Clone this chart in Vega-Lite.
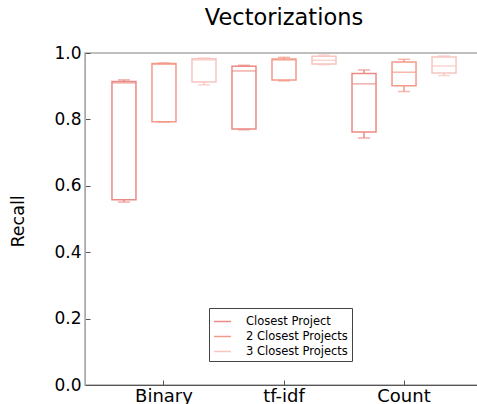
{
  "$schema": "https://vega.github.io/schema/vega-lite/v6.json",
  "autosize": {"type": "none"},
  "padding": {"left": 85, "top": 53, "right": 0, "bottom": 19},
  "width": 398,
  "height": 332,
  "title": {"text": "Vectorizations", "font": "DejaVu Sans", "fontSize": 22.5, "fontWeight": "normal", "color": "black", "offset": 15, "anchor": "middle"},
  "data": {"values": [
    {"vec": "Binary", "series": "Closest Project", "min": 0.551, "q1": 0.558, "median": 0.910, "q3": 0.914, "max": 0.919},
    {"vec": "Binary", "series": "2 Closest Projects", "min": 0.792, "q1": 0.793, "median": 0.966, "q3": 0.968, "max": 0.970},
    {"vec": "Binary", "series": "3 Closest Projects", "min": 0.904, "q1": 0.913, "median": 0.979, "q3": 0.983, "max": 0.985},
    {"vec": "tf-idf", "series": "Closest Project", "min": 0.769, "q1": 0.771, "median": 0.946, "q3": 0.960, "max": 0.963},
    {"vec": "tf-idf", "series": "2 Closest Projects", "min": 0.916, "q1": 0.919, "median": 0.979, "q3": 0.982, "max": 0.987},
    {"vec": "tf-idf", "series": "3 Closest Projects", "min": 0.965, "q1": 0.967, "median": 0.978, "q3": 0.990, "max": 0.994},
    {"vec": "Count", "series": "Closest Project", "min": 0.744, "q1": 0.762, "median": 0.907, "q3": 0.938, "max": 0.949},
    {"vec": "Count", "series": "2 Closest Projects", "min": 0.884, "q1": 0.901, "median": 0.942, "q3": 0.973, "max": 0.981},
    {"vec": "Count", "series": "3 Closest Projects", "min": 0.932, "q1": 0.940, "median": 0.961, "q3": 0.988, "max": 0.991}
  ]},
  "encoding": {
    "x": {"field": "vec", "type": "nominal", "sort": ["Binary", "tf-idf", "Count"],
      "scale": {"domain": ["Binary", "tf-idf", "Count"], "paddingInner": 0, "paddingOuter": 0.158},
      "axis": {"title": null, "labelAngle": 0, "labelFont": "DejaVu Sans", "labelFontSize": 18, "labelColor": "black", "domainColor": "#555555", "tickColor": "#555555", "tickSize": -5, "labelPadding": 7}},
    "xOffset": {"field": "series", "type": "nominal",
      "scale": {"domain": ["Closest Project", "2 Closest Projects", "3 Closest Projects"], "paddingInner": 0, "paddingOuter": 0}}
  },
  "layer": [
    {
      "mark": {"type": "rule", "strokeWidth": 1.5},
      "encoding": {
        "y": {"field": "min", "type": "quantitative", "scale": {"domain": [0, 1], "nice": false},
          "axis": {"title": "Recall", "values": [0, 0.2, 0.4, 0.6, 0.8, 1.0], "format": ".1f", "grid": false,
            "labelFont": "DejaVu Sans", "labelFontSize": 17, "labelColor": "black", "domainColor": "#aaaaaa", "tickColor": "#555555", "tickSize": -5, "labelPadding": 9,
            "titleFont": "DejaVu Sans", "titleFontSize": 17.5, "titleFontWeight": "normal", "titleColor": "black", "titleX": -62, "titleY": 168, "titleAngle": -90, "titleBaseline": "alphabetic", "titleAlign": "center"}},
        "y2": {"field": "max"},
        "stroke": {"field": "series", "type": "nominal",
          "scale": {"domain": ["Closest Project", "2 Closest Projects", "3 Closest Projects"], "range": ["#eb8a84", "#f39a88", "#f8c5c0"]},
          "legend": {"title": null, "orient": "none", "legendX": 124, "legendY": 255, "symbolType": "stroke", "symbolSize": 289, "symbolStrokeWidth": 1.5,
            "labelFont": "DejaVu Sans", "labelFontSize": 11.5, "labelColor": "black", "labelOffset": 14, "padding": 4, "rowPadding": 0,
            "strokeColor": "#444444", "fillColor": "white"}}
      }
    },
    {
      "mark": {"type": "bar", "fill": "white", "strokeWidth": 1.5, "size": 24},
      "encoding": {
        "y": {"field": "q1", "type": "quantitative"},
        "y2": {"field": "q3"},
        "stroke": {"field": "series", "type": "nominal"}
      }
    },
    {
      "mark": {"type": "tick", "size": 24, "thickness": 1.5},
      "encoding": {
        "y": {"field": "median", "type": "quantitative"},
        "color": {"field": "series", "type": "nominal", "scale": {"domain": ["Closest Project", "2 Closest Projects", "3 Closest Projects"], "range": ["#eb8a84", "#f39a88", "#f8c5c0"]}, "legend": null}
      }
    },
    {
      "mark": {"type": "tick", "size": 12, "thickness": 1.5},
      "encoding": {
        "y": {"field": "min", "type": "quantitative"},
        "color": {"field": "series", "type": "nominal", "legend": null}
      }
    },
    {
      "mark": {"type": "tick", "size": 12, "thickness": 1.5},
      "encoding": {
        "y": {"field": "max", "type": "quantitative"},
        "color": {"field": "series", "type": "nominal", "legend": null}
      }
    }
  ],
  "config": {
    "view": {"stroke": "#aaaaaa", "strokeWidth": 1.5},
    "font": "DejaVu Sans"
  }
}
